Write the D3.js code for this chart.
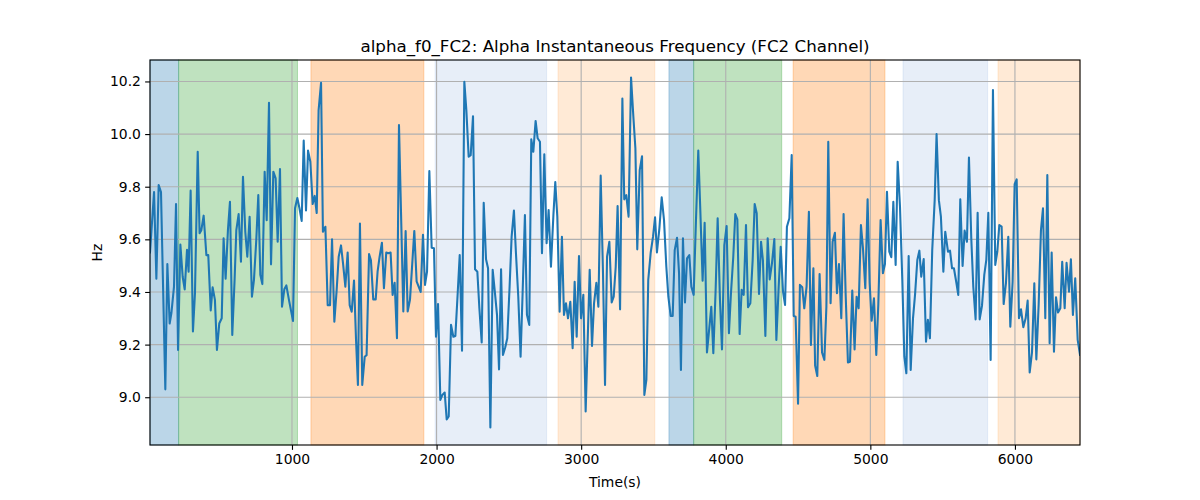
<!DOCTYPE html>
<html>
<head>
<meta charset="utf-8">
<script src="https://cdn.jsdelivr.net/npm/d3@7"></script>
<style>
  html, body { margin: 0; padding: 0; background: #ffffff; }
  svg { display: block; font-family: "DejaVu Sans", sans-serif; }
</style>
</head>
<body>
<svg id="chart" width="1200" height="500"></svg>
<script>
// ---- data ----
const times = [
  18,46,62,78,94,124,138,154,166,184,198,212,228,244,258,274,285,299,315,329,348,361,373,389,408,421,438,451,467,481,497,514,527,541,557,571,587,603,615,631,647,661,677,691,707,723,737,753,767,781,795,811,825,841,855,871,887,901,917,
  931,947,961,979,993,1007,1021,1037,1051,1067,1081,1097,1111,1127,1143,1157,1171,1184,1201,1214,1231,1247,1263,1277,1293,1309,1323,1339,1353,1369,1385,1399,1413,1429,1443,1456,1470,1486,1503,1516,1533,1546,1562,1579,1592,1606,1622,1636,1652,1666,1682,1696,1710,1726,1740,1770,1786,1800,1816,1846,1862,
  1890,1906,1920,1934,1950,1966,1982,1996,2010,2026,2040,2056,2070,2084,2100,2116,2130,2146,2160,2176,2192,2206,2222,2236,2252,2266,2282,2296,2312,2326,2342,2356,2372,2388,2404,2418,2432,2446,2459,2475,2489,2505,2519,2535,2549,2565,2581,2595,2611,2625,2641,2655,2669,2685,2699,2715,2729,2745,2761,
  2775,2791,2808,2821,2835,2851,2867,2881,2895,2909,2925,2941,2955,2969,2985,2999,3015,3031,3059,3075,3089,3105,3119,3135,3151,3165,3179,3195,3211,3225,3239,3252,3269,3285,3298,3312,3328,3345,3361,3375,3388,3405,3421,3437,3451,3464,3481,3497,3511,3524,3541,3557,3573,3589,3603,3619,3633,3647,3663,3677,3690,3704,
  3718,3732,3748,3762,3778,3794,3810,3824,3840,3854,3870,3886,3900,3914,3930,3944,3960,3974,3990,4006,4022,4036,4052,4066,4080,4096,4110,4124,4140,4154,4170,4186,4200,4214,4230,4244,4257,4274,4290,4304,4320,4336,4350,4366,4380,4396,4410,4423,4440,4456,4470,4483,4500,4513,4529,4543,4559,4575,4589,4606,4618,
  4633,4649,4666,4682,4696,4709,4725,4739,4755,4769,4783,4799,4815,4829,4845,4859,4875,4891,4905,4919,4935,4949,4965,4981,4995,5009,5025,5041,5055,5071,5087,5101,5115,5131,5145,5159,5175,5189,5205,5221,5235,5249,5265,5279,5295,5309,5325,5339,5352,5369,5385,5398,5412,5428,5445,5458,5474,5488,5505,5518,
  5537,5551,5565,5578,5595,5608,5622,5638,5652,5668,5682,5698,5712,5728,5742,5756,5772,5788,5802,5816,5832,5848,5864,5878,5892,5908,5922,5938,5954,5968,5984,5998,6012,6028,6042,6058,6074,6088,6102,6118,6134,6148,6164,6180,6194,6210,6224,6240,6254,6270,6284,6298,6314,6327,6344,6357,6374,6387,6401,6417,6434,6450
];
const freqHz = [
  9.55,9.78,9.45,9.806,9.78,9.03,9.506,9.28,9.32,9.42,9.734,9.18,9.58,9.458,9.41,9.56,9.477,9.785,9.25,9.395,9.933,9.623,9.635,9.69,9.54,9.54,9.33,9.418,9.37,9.18,9.28,9.30,9.604,9.45,9.635,9.743,9.237,9.446,9.635,9.696,9.515,9.838,9.629,9.534,9.686,9.382,9.446,9.597,9.768,9.465,9.43,9.857,9.673,10.119,9.505,9.857,9.832,9.591,9.867,
  9.344,9.41,9.425,9.37,9.33,9.29,9.718,9.757,9.72,9.67,9.975,9.71,9.937,9.895,9.734,9.765,9.70,10.09,10.195,9.629,9.648,9.35,9.35,9.60,9.287,9.408,9.534,9.577,9.509,9.42,9.55,9.35,9.325,9.443,9.218,9.047,9.66,9.047,9.154,9.16,9.544,9.52,9.372,9.372,9.477,9.534,9.587,9.414,9.55,9.547,9.55,9.389,9.435,9.224,10.034,9.326,9.632,9.326,9.37,9.632,9.44,
  9.40,9.617,9.427,9.477,9.86,9.568,9.566,9.23,9.354,8.99,9.009,9.018,8.916,8.927,9.275,9.23,9.233,9.395,9.54,9.177,10.199,10.09,9.914,9.92,10.068,9.486,9.477,9.338,9.208,9.739,9.524,9.49,8.885,9.484,9.395,9.313,9.106,9.486,9.161,9.19,9.224,9.42,9.61,9.709,9.547,9.382,9.154,9.395,9.692,9.313,9.275,9.98,9.933,10.05,9.984,9.971,9.547,9.923,9.585,
  9.711,9.496,9.692,9.818,9.686,9.325,9.61,9.313,9.357,9.30,9.363,9.186,9.439,9.23,9.537,9.30,9.389,8.946,9.484,9.195,9.357,9.435,9.344,9.842,9.471,9.047,9.534,9.591,9.36,9.382,9.496,9.727,9.334,10.135,9.752,9.768,9.686,10.215,10.066,9.946,9.562,9.863,9.916,9.009,9.066,9.446,9.55,9.61,9.684,9.55,9.642,9.76,9.673,9.496,9.382,9.309,9.309,9.559,9.606,9.471,9.104,9.604,
  9.36,9.528,9.54,9.42,9.389,9.673,9.937,9.711,9.443,9.663,9.17,9.262,9.344,9.167,9.408,9.68,9.37,9.182,9.578,9.651,9.243,9.395,9.534,9.696,9.676,9.24,9.408,9.389,9.654,9.342,9.357,9.52,9.734,9.699,9.392,9.591,9.52,9.233,9.604,9.448,9.511,9.601,9.218,9.42,9.572,9.401,9.351,9.648,9.68,9.92,9.309,9.306,8.975,9.427,9.418,9.338,9.42,9.705,9.199,9.49,9.12,
  9.081,9.468,9.17,9.142,9.344,9.971,9.357,9.591,9.625,9.395,9.506,9.30,9.696,9.395,9.132,9.135,9.405,9.182,9.382,9.338,9.654,9.566,9.414,9.752,9.435,9.291,9.376,9.161,9.351,9.673,9.471,9.506,9.781,9.553,9.532,9.743,9.503,9.895,9.724,9.446,9.154,9.091,9.537,9.104,9.30,9.389,9.522,9.557,9.458,9.525,9.211,9.294,9.224,9.559,9.749,10.0,9.749,9.686,9.477,9.629,
  9.553,9.557,9.49,9.49,9.435,9.389,9.752,9.499,9.633,9.591,9.911,9.604,9.42,9.296,9.701,9.296,9.347,9.465,9.522,9.701,9.142,10.167,9.503,9.553,9.654,9.648,9.354,9.435,9.61,9.268,9.439,9.81,9.828,9.30,9.334,9.266,9.30,9.367,9.094,9.17,9.433,9.144,9.351,9.635,9.718,9.30,9.844,9.205,9.55,9.173,9.38,9.322,9.338,9.515,9.338,9.511,9.401,9.524,9.313,9.452,9.218,9.161
];
// shaded stage spans
const spanStarts = [18, 216, 1131, 1990, 2840, 3607, 3778, 4466, 5226, 5883];
const spanEnds   = [216, 1038, 1912, 2761, 3509, 3778, 4387, 5101, 5811, 6450];
const spanColors = ["#1f77b4", "#2ca02c", "#ff7f0e", "#aec7e8", "#ffbb78", "#1f77b4", "#2ca02c", "#ff7f0e", "#aec7e8", "#ffbb78"];
const xTicks = [1000, 2000, 3000, 4000, 5000, 6000];
const yTicks = [9.0, 9.2, 9.4, 9.6, 9.8, 10.0, 10.2];
const titleText = "alpha_f0_FC2: Alpha Instantaneous Frequency (FC2 Channel)";
const xLabel = "Time(s)";
const yLabel = "Hz";

// ---- layout ----
const L = 150, R = 1080, T = 60, B = 445;
const svg = d3.select("#chart");
const x = d3.scaleLinear().domain([18, 6450]).range([L, R]);
const y = d3.scaleLinear().domain([8.8185, 10.2815]).range([B, T]);

const points = times.map((t, i) => ({ t: t, v: freqHz[i] }));
const spans = spanStarts.map((s, i) => ({ s: s, e: spanEnds[i], c: spanColors[i] }));

// spans
svg.append("g").selectAll("rect").data(spans).join("rect")
  .attr("x", d => x(d.s))
  .attr("y", T)
  .attr("width", d => x(d.e) - x(d.s))
  .attr("height", B - T)
  .attr("fill", d => d.c)
  .attr("fill-opacity", 0.3)
  .attr("stroke", d => d.c)
  .attr("stroke-opacity", 0.3)
  .attr("stroke-width", 1);

// grid
const grid = svg.append("g");
grid.selectAll("line.gx").data(xTicks).join("line")
  .attr("x1", d => x(d)).attr("x2", d => x(d))
  .attr("y1", T).attr("y2", B)
  .attr("stroke", "#b0b0b0").attr("stroke-width", 1.1);
grid.selectAll("line.gy").data(yTicks).join("line")
  .attr("x1", L).attr("x2", R)
  .attr("y1", d => y(d)).attr("y2", d => y(d))
  .attr("stroke", "#b0b0b0").attr("stroke-width", 1.1);

// line
const clipId = "plotclip";
svg.append("clipPath").attr("id", clipId).append("rect")
  .attr("x", L).attr("y", T).attr("width", R - L).attr("height", B - T);
svg.append("path")
  .datum(points)
  .attr("clip-path", `url(#${clipId})`)
  .attr("fill", "none")
  .attr("stroke", "#1f77b4")
  .attr("stroke-width", 2.08)
  .attr("stroke-linejoin", "round")
  .attr("stroke-linecap", "square")
  .attr("d", d3.line().x(d => x(d.t)).y(d => y(d.v)));

// axes
const xAxis = d3.axisBottom(x).tickValues(xTicks).tickFormat(d3.format("d")).tickSize(4.86).tickPadding(4.2);
const yAxis = d3.axisLeft(y).tickValues(yTicks).tickFormat(d3.format(".1f")).tickSize(4.86).tickPadding(4.2);
const gx = svg.append("g").attr("transform", `translate(0,${B})`).call(xAxis);
const gy = svg.append("g").attr("transform", `translate(${L},0)`).call(yAxis);
[gx, gy].forEach(g => {
  g.select(".domain").remove();
  g.selectAll(".tick line").attr("stroke", "#000").attr("stroke-width", 1.11);
  g.selectAll(".tick text").attr("fill", "#000").attr("font-size", "13.9px").attr("font-family", "DejaVu Sans");
});

// spines
svg.append("rect")
  .attr("x", L).attr("y", T).attr("width", R - L).attr("height", B - T)
  .attr("fill", "none").attr("stroke", "#000").attr("stroke-width", 1.11);

// title and labels
svg.append("text")
  .attr("x", (L + R) / 2).attr("y", 51.5)
  .attr("text-anchor", "middle")
  .attr("font-size", "16.7px")
  .attr("fill", "#000")
  .text(titleText);
svg.append("text")
  .attr("x", (L + R) / 2).attr("y", 486.5)
  .attr("text-anchor", "middle")
  .attr("font-size", "13.9px")
  .attr("fill", "#000")
  .text(xLabel);
svg.append("text")
  .attr("transform", `translate(101.5,${(T + B) / 2}) rotate(-90)`)
  .attr("text-anchor", "middle")
  .attr("font-size", "13.9px")
  .attr("fill", "#000")
  .text(yLabel);
</script>
</body>
</html>
